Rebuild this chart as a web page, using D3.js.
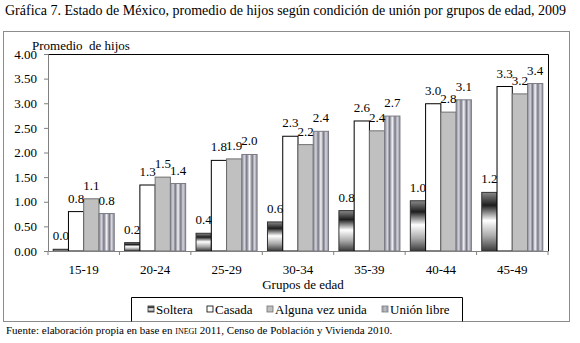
<!DOCTYPE html>
<html>
<head>
<meta charset="utf-8">
<script src="https://cdn.jsdelivr.net/npm/d3@7"></script>
<style>
  body { margin: 0; background: #fff; }
  svg text { font-family: "Liberation Serif", "DejaVu Serif", serif; }
</style>
</head>
<body>
<div id="chart"></div>
<script>
// Data
const groups = ["15-19", "20-24", "25-29", "30-34", "35-39", "40-44", "45-49"];
const seriesNames = ["Soltera", "Casada", "Alguna vez unida", "Unión libre"];
const soltera = [0.035, 0.17, 0.36, 0.59, 0.82, 1.02, 1.19];
const casada = [0.80, 1.34, 1.84, 2.33, 2.64, 2.99, 3.34];
const alguna = [1.06, 1.50, 1.87, 2.16, 2.44, 2.82, 3.19];
const unionLibre = [0.76, 1.37, 1.96, 2.43, 2.74, 3.07, 3.40];
const yTicks = [0, 0.5, 1, 1.5, 2, 2.5, 3, 3.5, 4];

const values = [soltera, casada, alguna, unionLibre];

// Dimensions
const W = 580, H = 343;
const plot = { left: 48, right: 548, top: 54, bottom: 251 };

const svg = d3.select("#chart")
    .append("svg")
    .attr("width", W)
    .attr("height", H);

// Gradients
const defs = svg.append("defs");
const gSol = defs.append("linearGradient")
    .attr("id", "gSol")
    .attr("x1", 0).attr("y1", 0).attr("x2", 0).attr("y2", 1);
[["0%", "#8a8a8a"], ["22%", "#1e1e1e"], ["48%", "#ffffff"], ["75%", "#a8a8a8"], ["100%", "#3a3a3a"]]
    .forEach(s => gSol.append("stop").attr("offset", s[0]).attr("stop-color", s[1]));

const gUni = defs.append("linearGradient")
    .attr("id", "gUni")
    .attr("x1", 0).attr("y1", 0).attr("x2", 1).attr("y2", 0);
[["0%", "#8e8e9a"], ["18%", "#d6d6de"], ["32%", "#767684"], ["50%", "#f4f4f8"], ["68%", "#767684"], ["82%", "#d6d6de"], ["100%", "#8e8e9a"]]
    .forEach(s => gUni.append("stop").attr("offset", s[0]).attr("stop-color", s[1]));

const fills = ["url(#gSol)", "#ffffff", "#c0c0c0", "url(#gUni)"];
const strokes = ["#333333", "#000000", "#707070", "#7a7a84"];

// Outer frame
svg.append("rect")
    .attr("x", 3.5).attr("y", 31.5)
    .attr("width", 566).attr("height", 290)
    .attr("fill", "none")
    .attr("stroke", "#8c8c8c");

// Title
svg.append("text")
    .attr("x", 5).attr("y", 15)
    .attr("font-size", 14)
    .text("Gráfica 7. Estado de México, promedio de hijos según condición de unión por grupos de edad, 2009");

// Scales
const x0 = d3.scaleBand()
    .domain(groups)
    .range([plot.left, plot.right])
    .padding(0);

const x1 = d3.scaleBand()
    .domain(seriesNames)
    .range([0, x0.bandwidth()])
    .paddingInner(0)
    .paddingOuter(0.34);

const y = d3.scaleLinear()
    .domain([0, 4])
    .range([plot.bottom, plot.top]);

// Plot border (top and right)
svg.append("path")
    .attr("d", `M${plot.left},${plot.top + 0.5}H${plot.right + 0.5}V${plot.bottom}`)
    .attr("fill", "none")
    .attr("stroke", "#000");

// Bars
groups.forEach((g, gi) => {
    seriesNames.forEach((s, si) => {
        const v = values[si][gi];
        svg.append("rect")
            .attr("x", x0(g) + x1(s))
            .attr("y", y(v))
            .attr("width", x1.bandwidth())
            .attr("height", y(0) - y(v))
            .attr("fill", fills[si])
            .attr("stroke", strokes[si])
            .attr("stroke-width", 1);
    });
});

// Value labels
groups.forEach((g, gi) => {
    seriesNames.forEach((s, si) => {
        const v = values[si][gi];
        svg.append("text")
            .attr("x", x0(g) + x1(s) + x1.bandwidth() / 2)
            .attr("y", y(v) - 9)
            .attr("text-anchor", "middle")
            .attr("font-size", 13)
            .text(v.toFixed(1));
    });
});

// Y axis
const yAxis = svg.append("g")
    .attr("transform", `translate(${plot.left},0)`)
    .call(d3.axisLeft(y).tickValues(yTicks).tickFormat(d3.format(".2f")).tickSize(4).tickPadding(7));
yAxis.select(".domain").attr("stroke", "#808080");
yAxis.selectAll(".tick line").attr("stroke", "#808080");
yAxis.selectAll("text").attr("font-size", 13).attr("fill", "#000");

// X axis
const xAxis = svg.append("g")
    .attr("transform", `translate(0,${plot.bottom})`)
    .call(d3.axisBottom(x0).tickSize(0).tickPadding(14));
xAxis.select(".domain").attr("stroke", "#808080");
xAxis.selectAll("text").attr("font-size", 13).attr("fill", "#000");

// Tick marks between groups
svg.append("g")
    .selectAll("line")
    .data(groups.concat(["end"]))
    .join("line")
    .attr("x1", (d, i) => i < groups.length ? x0(d) : plot.right)
    .attr("x2", (d, i) => i < groups.length ? x0(d) : plot.right)
    .attr("y1", plot.bottom)
    .attr("y2", plot.bottom + 4)
    .attr("stroke", "#808080");

// Axis titles
svg.append("text")
    .attr("x", 32).attr("y", 50)
    .attr("font-size", 13)
    .style("white-space", "pre")
    .text("Promedio  de hijos");

svg.append("text")
    .attr("x", (plot.left + plot.right) / 2 + 5).attr("y", 289)
    .attr("text-anchor", "middle")
    .attr("font-size", 13)
    .text("Grupos de edad");

// Legend
svg.append("path")
    .attr("d", "M131.5,321.5V297.5H462.5V321.5")
    .attr("fill", "none")
    .attr("stroke", "#000");

const legendX = [148, 207, 267, 382];
const legend = svg.append("g")
    .selectAll("g")
    .data(seriesNames)
    .join("g")
    .attr("transform", (d, i) => `translate(${legendX[i]},0)`);

legend.append("rect")
    .attr("x", 0).attr("y", 306)
    .attr("width", 6).attr("height", 6)
    .attr("fill", (d, i) => fills[i])
    .attr("stroke", (d, i) => strokes[i])
    .attr("stroke-width", 0.8);

legend.append("text")
    .attr("x", 8).attr("y", 314)
    .attr("font-size", 13)
    .text(d => d);

// Footer
const foot = svg.append("text")
    .attr("x", 6).attr("y", 334)
    .attr("font-size", 11);
foot.append("tspan").text("Fuente: elaboración propia en base en ");
foot.append("tspan").attr("font-size", 8).text("INEGI");
foot.append("tspan").text(" 2011, Censo de Población y Vivienda 2010.");
</script>
</body>
</html>
